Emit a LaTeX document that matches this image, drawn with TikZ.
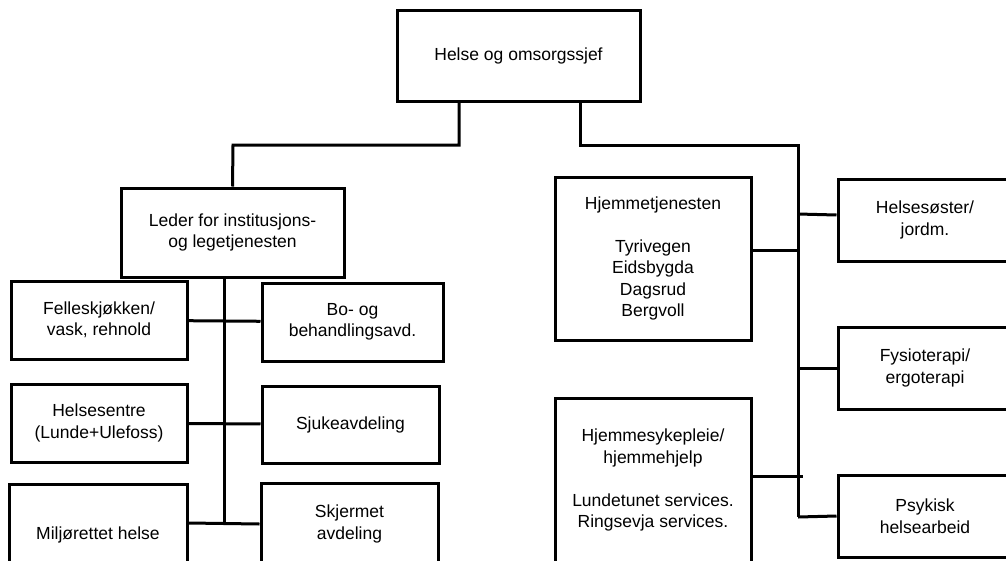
\documentclass[tikz,border=0pt]{standalone}
\usepackage{fontspec}
\setmainfont{Liberation Sans}
\usepackage{tikz}
\usetikzlibrary{positioning}

\begin{document}
\begin{tikzpicture}[x=1pt,y=-1pt,
	box/.style={draw,line width=3pt,align=center,inner sep=0pt,font=\fontsize{17.5}{21.5}\selectfont},
	link/.style={draw,line width=3pt}]
	\useasboundingbox (0,0) rectangle (1006,560);
	\clip (0,0) rectangle (1006,560);

	\node[box,minimum width=243,minimum height=91] (chief) at (518.5,55.5) {Helse og omsorgssjef};
	\node[box,minimum width=223,minimum height=89] (leader) at (232.5,232.5) {Leder for institusjons-\\og legetjenesten};

	\node[box,minimum width=176,minimum height=78] (kjokken) at (99,320) {Felleskjøkken/\\vask, rehnold};
	\node[box,minimum width=181,minimum height=78] (boavd) at (352.5,322) {Bo- og\\behandlingsavd.};
	\node[box,minimum width=176,minimum height=78] (sentre) at (99,423) {Helsesentre\\(Lunde+Ulefoss)};
	\node[box,minimum width=177,minimum height=77] (sjuke) at (350.5,424.5) {Sjukeavdeling};
	\node[box,minimum width=178,minimum height=102] (miljo) at (98,535) {Miljørettet helse};
	\node[box,minimum width=177,minimum height=82] (skjerm) at (349.5,524) {Skjermet\\avdeling};

	\node[box,minimum width=196,minimum height=163] (hjemtj) at (653,258.5) {Hjemmetjenesten\\[21.5pt]Tyrivegen\\Eidsbygda\\Dagsrud\\Bergvoll};
	\node[box,minimum width=196,minimum height=164] (hjemsyk) at (653,480) {Hjemmesykepleie/\\hjemmehjelp\\[21.5pt]Lundetunet services.\\Ringsevja services.};

	\node[box,minimum width=174,minimum height=82] (soster) at (925,220) {Helsesøster/\\jordm.};
	\node[box,minimum width=174,minimum height=82] (fysio) at (925,368) {Fysioterapi/\\ergoterapi};
	\node[box,minimum width=174,minimum height=82] (psyk) at (925,516) {Psykisk\\helsearbeid};

	\coordinate (lknee) at (233,145);
	\coordinate (rknee) at (798,145);
	\coordinate (lbot) at (224,523);
	\coordinate (rbot) at (798,517);

	\draw[link] ([xshift=-59.5pt]chief.south) |- (lknee) -- (leader.north);
	\draw[link] ([xshift=61.5pt]chief.south) |- (rknee) -- (rbot);
	\draw[link] ([xshift=-8.5pt]leader.south) -- (lbot);

	\path [link] (kjokken) edge (boavd);
	\path [link] (sentre) edge (sjuke);
	\path [link] ([yshift=12pt]miljo.east) edge (skjerm.west);

	\path [link] ([yshift=8pt]hjemtj.east) edge ([yshift=8pt]hjemtj.east -| rbot);
	\path [link] ([yshift=4pt]hjemsyk.east) edge ++(50,0);
	\path [link] ([yshift=5pt]soster.west) edge ([yshift=6pt]soster.west -| rbot);
	\path [link] (fysio.west) edge (fysio.west -| rbot);
	\path [link] (psyk.west) edge (rbot);
\end{tikzpicture}
\end{document}
